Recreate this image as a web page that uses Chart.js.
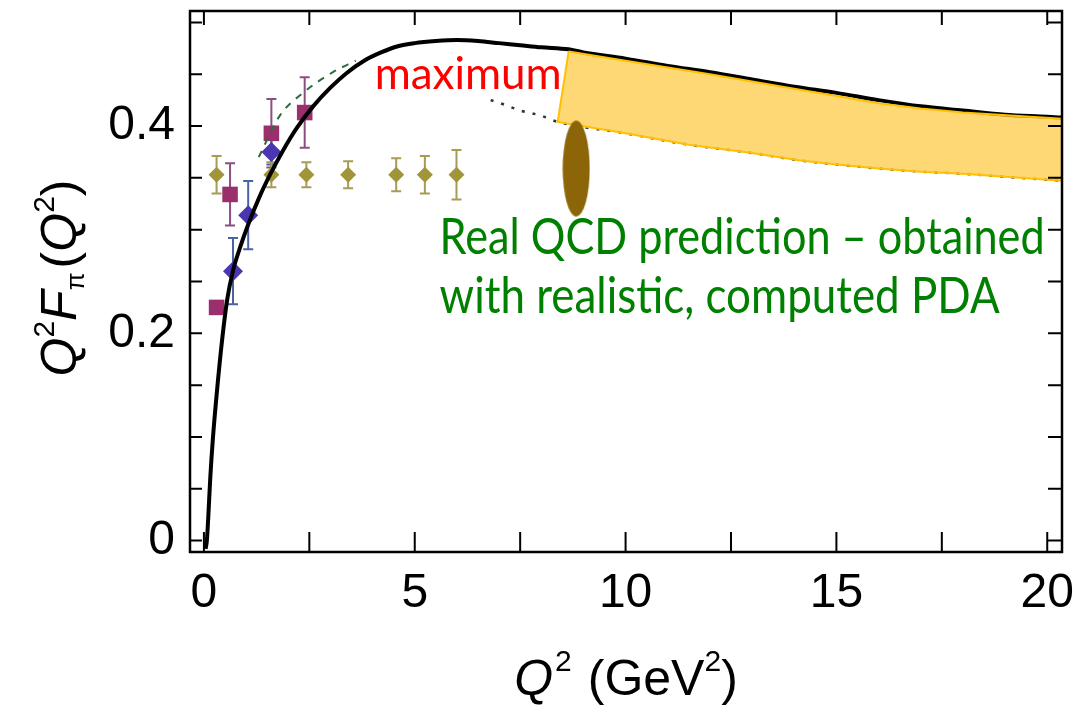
<!DOCTYPE html>
<html>
<head>
<meta charset="utf-8">
<script src="https://cdn.jsdelivr.net/npm/chart.js@4.4.0/dist/chart.umd.min.js"></script>
<style>
    body { margin: 0; background: #fff; }
    #my-canvas { display: block; }
</style>
</head>
<body>
<canvas id="my-canvas" width="1073" height="705"></canvas>
<script>
// solid theory curve Q^2 F_pi(Q^2)
let curve_x = [0.04, 0.07, 0.1, 0.15, 0.21, 0.3, 0.43, 0.55, 0.7, 0.85, 1.05, 1.3, 1.58, 1.87, 2.2, 2.59, 3.0, 3.38, 3.8, 4.2, 4.6, 5.0, 5.5, 6.0, 6.5, 7.0, 7.5, 8.0, 8.65, 9, 10, 11, 12, 13, 14, 15, 16, 17, 18, 19, 20, 20.4];
let curve_y = [-0.008, 0.0, 0.02, 0.06, 0.097, 0.14, 0.193, 0.232, 0.262, 0.282, 0.305, 0.33, 0.354, 0.376, 0.398, 0.419, 0.437, 0.451, 0.463, 0.471, 0.477, 0.48, 0.482, 0.483, 0.482, 0.48, 0.478, 0.476, 0.474, 0.471, 0.465, 0.458, 0.452, 0.445, 0.438, 0.432, 0.425, 0.419, 0.415, 0.411, 0.409, 0.408];
// dashed green curve near the data
let dash_x = [1.3, 1.8, 2.35, 3.06, 3.6];
let dash_y = [0.37, 0.41, 0.432, 0.452, 0.463];
// dotted lower curve
let dot_x = [6.8, 7.1, 7.5, 8.0, 8.39, 10, 11.5, 13, 14.1, 15, 16, 17, 18, 19, 20.4];
let dot_y = [0.425, 0.421, 0.415, 0.41, 0.404, 0.393, 0.382, 0.374, 0.367, 0.363, 0.359, 0.356, 0.354, 0.351, 0.347];
// realistic PDA band
let band_top_x = [8.65, 10, 12, 14, 16, 17, 18, 20.4];
let band_top_y = [0.472, 0.463, 0.45, 0.436, 0.422, 0.417, 0.413, 0.407];
let band_bot_x = [8.39, 10, 11.5, 13, 14.1, 15, 16, 17, 18, 19, 20.4];
let band_bot_y = [0.404, 0.393, 0.382, 0.374, 0.367, 0.363, 0.359, 0.356, 0.354, 0.351, 0.347];
// data sets
let sq_x = [0.3, 0.62, 1.6, 2.39];
let sq_y = [0.225, 0.334, 0.393, 0.413];
let sq_err = [0.0, 0.03, 0.033, 0.034];
let dia_x = [0.69, 1.05, 1.6];
let dia_y = [0.26, 0.314, 0.375];
let dia_err = [0.032, 0.033, 0.012];
let ol_x = [0.3, 1.6, 2.43, 3.42, 4.56, 5.24, 5.99];
let ol_y = [0.353, 0.353, 0.353, 0.353, 0.353, 0.353, 0.353];
let ol_err = [0.018, 0.012, 0.012, 0.013, 0.016, 0.018, 0.024];
// brown ellipse marker
let ell_x = [8.83];
let ell_y = [0.359];
// ticks
let x_major = [0, 5, 10, 15, 20];
let x_minor = [0, 2.5, 5, 7.5, 10, 12.5, 15, 17.5, 20];
let y_major = [0, 0.2, 0.4];
let y_minor = [0, 0.05, 0.1, 0.15, 0.2, 0.25, 0.3, 0.35, 0.4, 0.45, 0.5];
// annotations
let notes = [
    { text: 'maximum', x: 4.05, y: 0.4355, color: '#ff0000', size: 44, maxw: 187 },
    { text: 'Real QCD prediction \u2013 obtained', x: 5.59, y: 0.277, color: 'rgb(0,128,0)', size: 50, maxw: 605 },
    { text: 'with realistic, computed PDA', x: 5.59, y: 0.2197, color: 'rgb(0,128,0)', size: 50, maxw: 560 }
];

function pts(xs, ys) {
    let out = [];
    for (let i = 0; i < xs.length; i++) out.push({ x: xs[i], y: ys[i] });
    return out;
}

// closed polygon for the band
let band_pts = pts(band_top_x, band_top_y).concat(pts(band_bot_x, band_bot_y).reverse());
band_pts.push({ x: band_top_x[0], y: band_top_y[0] });

// ellipse point image
let ell_img = document.createElement('canvas');
ell_img.width = 28;
ell_img.height = 98;
let ec = ell_img.getContext('2d');
ec.fillStyle = '#8b6508';
ec.beginPath();
ec.ellipse(14, 49, 13.5, 48, 0, 0, Math.PI * 2);
ec.fill();

function rich(ctx, parts, cx, baseY) {
    let total = 0;
    parts.forEach(p => { ctx.font = p.f; p.w = ctx.measureText(p.t).width + (p.gap || 0); total += p.w; });
    let xx = cx - total / 2;
    parts.forEach(p => {
        ctx.font = p.f;
        ctx.fillText(p.t, xx, baseY + (p.dy || 0));
        xx += p.w;
    });
}

function no_pad(s) {
    s.paddingTop = 0;
    s.paddingBottom = 0;
    s.paddingLeft = 0;
    s.paddingRight = 0;
}

const errbars = {
    id: 'errbars',
    beforeDatasetsDraw(chart) {
        const { ctx, scales: { x, y } } = chart;
        const sets = [[sq_x, sq_y, sq_err, '#8a4f80'], [dia_x, dia_y, dia_err, '#4a62a8'], [ol_x, ol_y, ol_err, '#a59c55']];
        ctx.save();
        ctx.lineWidth = 2;
        sets.forEach(s => {
            ctx.strokeStyle = s[3];
            for (let i = 0; i < s[0].length; i++) {
                if (!s[2][i]) continue;
                let px = x.getPixelForValue(s[0][i]);
                let p1 = y.getPixelForValue(s[1][i] + s[2][i]);
                let p2 = y.getPixelForValue(s[1][i] - s[2][i]);
                ctx.beginPath();
                ctx.moveTo(px, p1); ctx.lineTo(px, p2);
                ctx.moveTo(px - 5, p1); ctx.lineTo(px + 5, p1);
                ctx.moveTo(px - 5, p2); ctx.lineTo(px + 5, p2);
                ctx.stroke();
            }
        });
        ctx.restore();
    }
};

const frame = {
    id: 'frame',
    afterDraw(chart) {
        const { ctx, chartArea: a, scales: { x, y } } = chart;
        ctx.save();
        ctx.strokeStyle = '#000';
        ctx.lineWidth = 2.5;
        ctx.strokeRect(a.left, a.top, a.width, a.height);
        ctx.lineWidth = 2;
        ctx.beginPath();
        x_minor.forEach(v => {
            let px = x.getPixelForValue(v);
            ctx.moveTo(px, a.bottom); ctx.lineTo(px, a.bottom - 20);
            ctx.moveTo(px, a.top); ctx.lineTo(px, a.top + 14);
        });
        y_minor.forEach(v => {
            let py = y.getPixelForValue(v);
            ctx.moveTo(a.left, py); ctx.lineTo(a.left + 12, py);
            ctx.moveTo(a.right, py); ctx.lineTo(a.right - 14, py);
        });
        ctx.stroke();

        // axis titles
        ctx.fillStyle = '#000';
        ctx.textBaseline = 'alphabetic';
        ctx.textAlign = 'left';
        const it = 'italic 50px "Liberation Sans"';
        const rm = '50px "Liberation Sans"';
        const sp = '30px "Liberation Sans"';
        rich(ctx, [
            { t: 'Q', f: it, gap: 2 }, { t: '2', f: sp, dy: -24, gap: 16 },
            { t: '(GeV', f: rm }, { t: '2', f: sp, dy: -24 }, { t: ')', f: rm }
        ], (a.left + a.right) / 2, 695);

        ctx.save();
        ctx.translate(76, 278);
        ctx.rotate(-Math.PI / 2);
        rich(ctx, [
            { t: 'Q', f: it }, { t: '2', f: sp, dy: -22 },
            { t: 'F', f: it }, { t: '\u03c0', f: '26px "Liberation Sans"', dy: 8, gap: 4 },
            { t: '(', f: rm }, { t: 'Q', f: it }, { t: '2', f: sp, dy: -22 }, { t: ')', f: rm }
        ], 0, 0);
        ctx.restore();

        // text notes
        notes.forEach(n => {
            ctx.fillStyle = n.color;
            ctx.font = n.size + 'px Lato';
            ctx.fillText(n.text, x.getPixelForValue(n.x), y.getPixelForValue(n.y), n.maxw);
        });
        ctx.restore();
    }
};

let ctx = document.getElementById('my-canvas');
var chart = new Chart(ctx, {
    type: 'scatter',
    data: {
        datasets: [
            {
                label: 'ellipse',
                data: pts(ell_x, ell_y),
                pointStyle: ell_img,
                pointRadius: 1,
                order: 0
            },
            {
                label: 'band',
                data: band_pts,
                showLine: true,
                fill: 'shape',
                backgroundColor: 'rgba(255,200,60,0.7)',
                borderColor: '#ffc000',
                borderWidth: 2,
                pointRadius: 0,
                tension: 0,
                order: 1
            },
            {
                label: 'curve',
                data: pts(curve_x, curve_y),
                showLine: true,
                borderColor: '#000',
                borderWidth: 4,
                pointRadius: 0,
                cubicInterpolationMode: 'monotone',
                order: 2
            },
            {
                label: 'dashed',
                data: pts(dash_x, dash_y),
                showLine: true,
                borderColor: '#2e6b3a',
                borderWidth: 2,
                borderDash: [7, 7],
                pointRadius: 0,
                cubicInterpolationMode: 'monotone',
                order: 3
            },
            {
                label: 'squares',
                data: pts(sq_x, sq_y),
                pointStyle: 'rect',
                pointRadius: 11,
                backgroundColor: '#9b2f6e',
                borderColor: '#9b2f6e',
                borderWidth: 0,
                order: 5
            },
            {
                label: 'diamonds',
                data: pts(dia_x, dia_y),
                pointStyle: 'rectRot',
                pointRadius: 10,
                backgroundColor: '#4a36b0',
                borderColor: '#4a36b0',
                borderWidth: 0,
                order: 4
            },
            {
                label: 'olive',
                data: pts(ol_x, ol_y),
                pointStyle: 'rectRot',
                pointRadius: 8,
                backgroundColor: '#a09538',
                borderColor: '#a09538',
                borderWidth: 0,
                order: 6
            },
            {
                label: 'dotted',
                data: pts(dot_x, dot_y),
                showLine: true,
                borderColor: '#333',
                borderWidth: 2.5,
                borderDash: [3, 8],
                pointRadius: 0,
                cubicInterpolationMode: 'monotone',
                order: 7
            }
        ]
    },
    options: {
        responsive: false,
        animation: false,
        layout: { padding: { top: 8, right: 10, left: 0, bottom: 0 } },
        scales: {
            x: {
                type: 'linear',
                min: -0.33,
                max: 20.35,
                grid: { display: false, drawTicks: false },
                border: { display: false },
                afterBuildTicks: s => { s.ticks = x_major.map(v => ({ value: v })); },
                afterFit: s => { s.height = 153; no_pad(s); },
                ticks: { color: '#000', padding: 13, maxRotation: 0, font: { family: 'Liberation Sans', size: 48 } }
            },
            y: {
                type: 'linear',
                min: -0.011,
                max: 0.511,
                grid: { display: false, drawTicks: false },
                border: { display: false },
                afterBuildTicks: s => { s.ticks = y_major.map(v => ({ value: v })); },
                afterFit: s => { s.width = 190; no_pad(s); },
                ticks: { color: '#000', padding: 15, font: { family: 'Liberation Sans', size: 48 } }
            }
        },
        plugins: {
            legend: { display: false },
            tooltip: { enabled: false },
            title: { display: false }
        }
    },
    plugins: [errbars, frame]
});
</script>
</body>
</html>
